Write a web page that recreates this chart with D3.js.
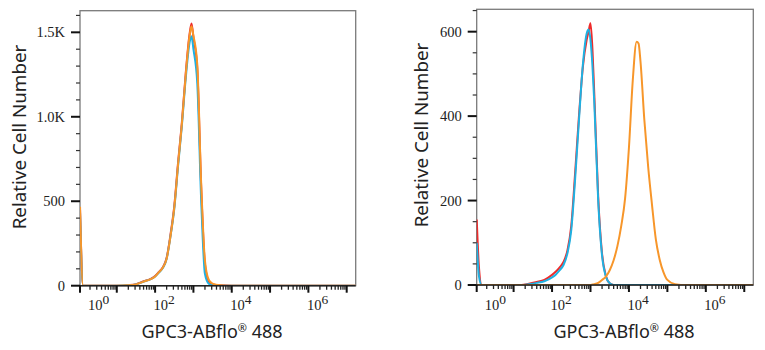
<!DOCTYPE html>
<html>
<head>
<meta charset="utf-8">
<script src="https://cdn.jsdelivr.net/npm/d3@7"></script>
<style>
  body { margin: 0; background: #fff; }
  svg { display: block; }
</style>
</head>
<body>
<div id="chart"></div>
<script>
// fluorescence channel values (x) and relative cell counts (y)
const leftChannel = [1.1, 1.32, 10, 20, 32, 50, 79, 100, 126, 158, 200, 251, 316, 398, 501, 631, 794, 891, 1000, 1259, 1585, 1995, 2512, 3162, 5012, 10000, 1.72e7]
const leftRed = [450, 0, 0, 3, 9, 26, 42, 58, 82, 108, 165, 300, 470, 730, 970, 1260, 1490, 1552, 1470, 1290, 600, 130, 25, 8, 2, 0, 0]
const leftCyan = [430, 0, 0, 2, 8, 24, 40, 55, 78, 104, 160, 290, 455, 710, 950, 1230, 1440, 1477, 1400, 1200, 520, 70, 12, 3, 0, 0, 0]
const leftOrange = [467, 0, 0, 2, 8, 24, 40, 55, 80, 106, 160, 290, 460, 720, 960, 1250, 1480, 1536, 1480, 1310, 620, 150, 35, 12, 3, 0, 0]

const rightChannel = [1.1, 1.26, 1.48, 16, 25, 40, 63, 100, 126, 158, 200, 251, 316, 398, 501, 631, 794, 891, 1000, 1122, 1259, 1585, 1995, 2512, 3162, 3981, 5012, 6310, 7943, 10000, 12589, 15849, 17783, 19953, 25119, 31623, 39811, 50119, 63096, 79433, 100000, 158489, 316228, 1.72e7]
const rightRed = [155, 40, 0, 0, 3, 7, 12, 24, 32, 42, 55, 82, 140, 265, 400, 515, 580, 600, 620, 560, 450, 210, 75, 22, 4, 0, 0, 0, 0, 0, 0, 0, 0, 0, 0, 0, 0, 0, 0, 0, 0, 0, 0, 0]
const rightCyan = [100, 20, 0, 0, 2, 5, 9, 18, 25, 35, 48, 75, 130, 250, 390, 520, 595, 605, 580, 520, 430, 200, 70, 20, 4, 0, 0, 0, 0, 0, 0, 0, 0, 0, 0, 0, 0, 0, 0, 0, 0, 0, 0, 0]
const rightOrange = [0, 0, 0, 0, 0, 0, 0, 0, 0, 0, 0, 0, 0, 0, 0, 0, 0, 0, 0, 1, 2, 5, 12, 20, 35, 58, 92, 140, 205, 325, 485, 576, 572, 530, 392, 280, 190, 108, 60, 30, 12, 2, 0, 0]

const xLabelExps = [0, 2, 4, 6]
const leftYTicks = [0, 500, 1000, 1500]
const leftYLabels = ['0', '500', '1.0K', '1.5K']
const rightYTicks = [0, 200, 400, 600]
const rightYLabels = ['0', '200', '400', '600']

const xTitle = 'GPC3-ABflo'
const yTitle = 'Relative Cell Number'

const colors = { red: '#ee2b2b', cyan: '#1fb1e2', orange: '#f7962a' }

const panels = [
  {
    left: 80, right: 355.7, top: 10.7, bottom: 285.7, yMax: 1628, minorStep: 100,
    channel: leftChannel,
    series: [[leftRed, colors.red], [leftCyan, colors.cyan], [leftOrange, colors.orange]],
    yTicks: leftYTicks, yLabels: leftYLabels,
    titleX: 212, yTitleX: 26, yTitleY: 137
  },
  {
    left: 476.7, right: 753.3, top: 9.3, bottom: 285, yMax: 653, minorStep: 50,
    channel: rightChannel,
    series: [[rightRed, colors.red], [rightCyan, colors.cyan], [rightOrange, colors.orange]],
    yTicks: rightYTicks, yLabels: rightYLabels,
    titleX: 624, yTitleX: 428, yTitleY: 135
  }
]

const svg = d3.select('#chart')
  .append('svg')
  .attr('width', 765)
  .attr('height', 350)

svg.append('rect').attr('width', 765).attr('height', 350).attr('fill', '#fff')

panels.forEach((p, i) => {
  const x = d3.scaleLog()
    .domain([Math.pow(10, 0.04), Math.pow(10, 7.235)])
    .range([p.left, p.right])

  const y = d3.scaleLinear()
    .domain([0, p.yMax])
    .range([p.bottom, p.top])

  const g = svg.append('g')

  // frame
  g.append('rect')
    .attr('x', p.left)
    .attr('y', p.top)
    .attr('width', p.right - p.left)
    .attr('height', p.bottom - p.top)
    .attr('fill', 'none')
    .attr('stroke', '#7a7a7a')
    .attr('stroke-width', 1.3)

  // curves
  g.append('clipPath')
    .attr('id', 'clip' + i)
    .append('rect')
    .attr('x', p.left)
    .attr('y', p.top - 2)
    .attr('width', p.right - p.left)
    .attr('height', p.bottom - p.top + 2)

  const line = d3.line()
    .x(d => x(d[0]))
    .y(d => y(d[1]))
    .curve(d3.curveMonotoneX)

  p.series.forEach(([counts, color]) => {
    const pts = p.channel.map((c, j) => [c, counts[j]])
    g.append('path')
      .attr('d', line(pts))
      .attr('fill', 'none')
      .attr('stroke', color)
      .attr('stroke-width', 2)
      .attr('stroke-linejoin', 'round')
      .attr('clip-path', 'url(#clip' + i + ')')
  })

  // bottom axis line
  g.append('line')
    .attr('x1', p.left).attr('x2', p.right)
    .attr('y1', p.bottom).attr('y2', p.bottom)
    .attr('stroke', '#222')
    .attr('stroke-width', 1.6)

  // x ticks (log decades with minor ticks)
  const [d0, d1] = x.domain()
  const major = []
  const minor = []
  for (let e = 0; e <= 7; e++) {
    for (let k = 1; k <= 9; k++) {
      const v = k * Math.pow(10, e)
      if (v < d0 || v > d1) continue
      if (k === 1) major.push(v)
      else minor.push(v)
    }
  }
  g.selectAll('.xmajor')
    .data(major)
    .enter()
    .append('line')
    .attr('x1', d => x(d)).attr('x2', d => x(d))
    .attr('y1', p.bottom).attr('y2', p.bottom + 7)
    .attr('stroke', '#111').attr('stroke-width', 2)
  g.selectAll('.xminor')
    .data(minor)
    .enter()
    .append('line')
    .attr('x1', d => x(d)).attr('x2', d => x(d))
    .attr('y1', p.bottom).attr('y2', p.bottom + 4)
    .attr('stroke', '#222').attr('stroke-width', 1.3)
  // tick at left edge
  g.append('line')
    .attr('x1', p.left).attr('x2', p.left)
    .attr('y1', p.bottom).attr('y2', p.bottom + 7)
    .attr('stroke', '#111').attr('stroke-width', 2)

  // x tick labels 10^n
  xLabelExps.forEach(e => {
    const lx = Math.max(x(Math.pow(10, e)) - 1.5, p.left + 8)
    const t = g.append('text')
      .attr('x', lx)
      .attr('y', p.bottom + 24.5)
      .attr('font-family', 'Liberation Serif, serif')
      .attr('font-size', 14.5)
      .attr('fill', '#222')
    t.append('tspan').text('10')
    t.append('tspan').attr('dy', -6).attr('font-size', 13.5).text(e)
  })

  // y ticks
  const yMinor = d3.range(0, p.yMax + 0.1, p.minorStep).filter(v => !p.yTicks.includes(v))
  g.selectAll('.yminor')
    .data(yMinor)
    .enter()
    .append('line')
    .attr('x1', p.left - 4).attr('x2', p.left)
    .attr('y1', d => y(d)).attr('y2', d => y(d))
    .attr('stroke', '#333').attr('stroke-width', 1.2)
  g.selectAll('.ymajor')
    .data(p.yTicks)
    .enter()
    .append('line')
    .attr('x1', p.left - 9).attr('x2', p.left)
    .attr('y1', d => y(d)).attr('y2', d => y(d))
    .attr('stroke', '#111').attr('stroke-width', 2)
  g.selectAll('.ylabel')
    .data(p.yTicks)
    .enter()
    .append('text')
    .attr('x', p.left - 15)
    .attr('y', d => y(d) + 5)
    .attr('text-anchor', 'end')
    .attr('font-family', 'Liberation Serif, serif')
    .attr('font-size', 14.5)
    .attr('fill', '#222')
    .text((d, j) => p.yLabels[j])

  // axis titles
  const xt = g.append('text')
    .attr('x', p.titleX)
    .attr('y', 338)
    .attr('text-anchor', 'middle')
    .attr('font-family', 'Noto Sans, sans-serif')
    .attr('font-size', 18)
    .attr('fill', '#222')
  xt.append('tspan').text(xTitle)
  xt.append('tspan').attr('dy', -6).attr('font-size', 11).text('®')
  xt.append('tspan').attr('dy', 6).text(' 488')

  g.append('text')
    .attr('transform', 'translate(' + p.yTitleX + ',' + p.yTitleY + ') rotate(-90)')
    .attr('text-anchor', 'middle')
    .attr('font-family', 'Noto Sans, sans-serif')
    .attr('font-size', 18.8)
    .attr('fill', '#222')
    .text(yTitle)
})
</script>
</body>
</html>
